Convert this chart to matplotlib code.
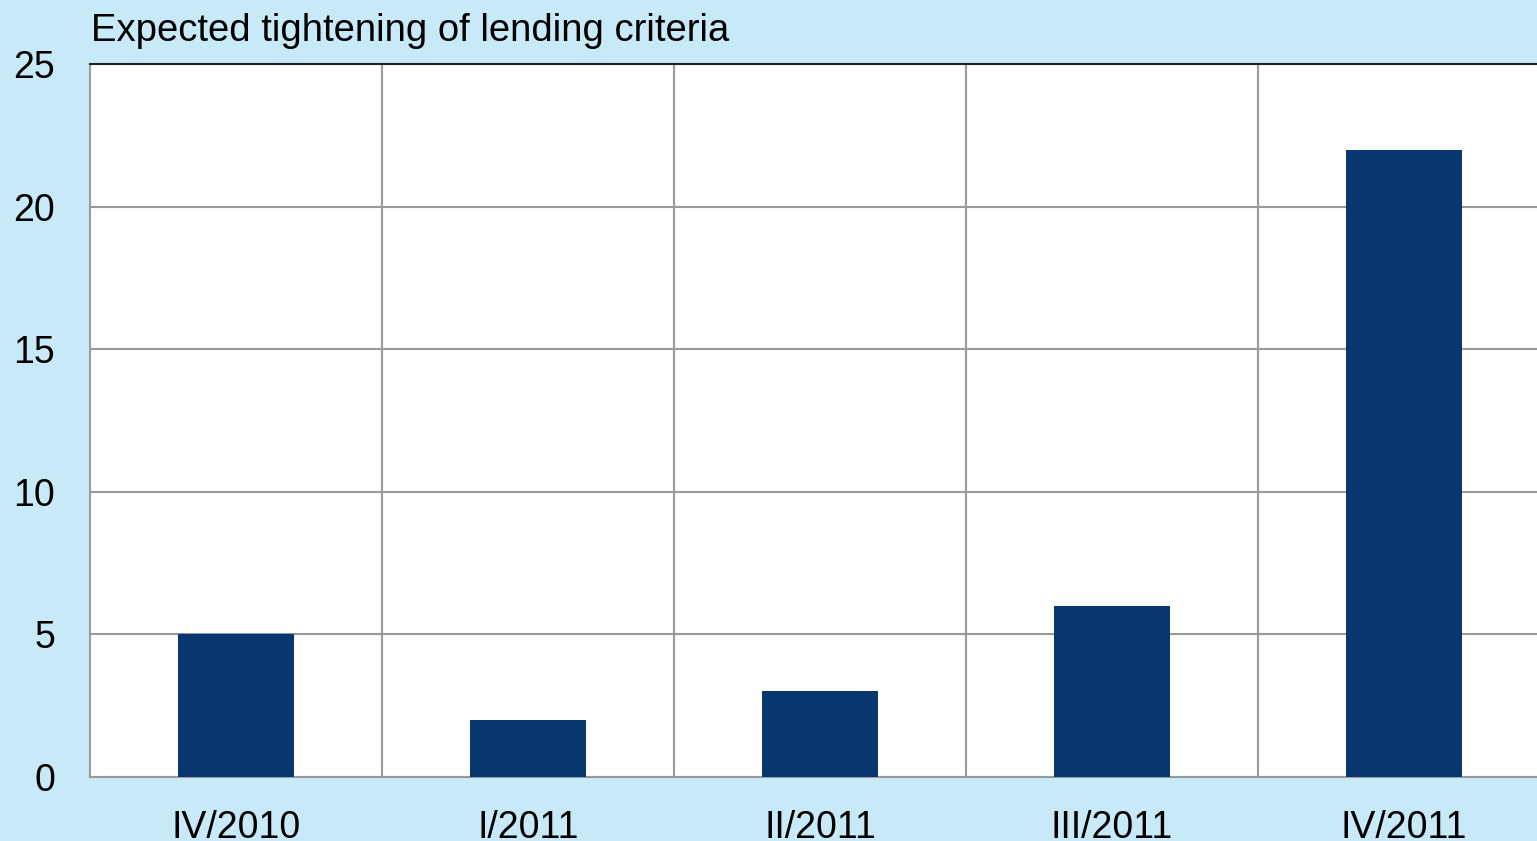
import matplotlib.pyplot as plt
import numpy as np

plt.rcParams['font.family'] = ['Liberation Sans', 'DejaVu Sans']

quarters = ['IV/2010', 'I/2011', 'II/2011', 'III/2011', 'IV/2011']
tightening = [5, 2, 3, 6, 22]
y_ticks = [0, 5, 10, 15, 20, 25]

bg = '#c8eaf8'
bar_color = '#08366f'
grid_color = '#999999'

fig = plt.figure(figsize=(15.37, 8.41), dpi=100, facecolor=bg)

# plot area runs past the right edge of the figure
ax = fig.add_axes([90 / 1537, 64 / 841, 1460 / 1537, 713 / 841])
ax.set_facecolor('white')

x = np.arange(len(quarters))
ax.bar(x, tightening, width=0.4, color=bar_color, zorder=3)

ax.set_xlim(-0.5, len(quarters) - 0.5)
ax.set_ylim(0, 25)
ax.set_yticks(y_ticks)
ax.set_xticks(x)
ax.set_xticklabels(quarters)
ax.set_xticks(x[:-1] + 0.5, minor=True)

ax.grid(axis='y', which='major', color=grid_color, lw=1.5, zorder=1)
ax.grid(axis='x', which='minor', color=grid_color, lw=1.5, zorder=1)
ax.tick_params(which='both', length=0)
ax.tick_params(axis='y', labelsize=27, pad=25)
ax.tick_params(axis='x', labelsize=27, pad=24)

for side in ['left', 'bottom']:
    ax.spines[side].set_color(grid_color)
    ax.spines[side].set_linewidth(1.5)
ax.spines['top'].set_color('#222222')
ax.spines['top'].set_linewidth(1.5)
ax.spines['right'].set_visible(False)

fig.text(91 / 1537, 1 - 41 / 841, 'Expected tightening of lending criteria',
         fontsize=27.5, ha='left', va='baseline')

fig.savefig('out.png', dpi=100, facecolor=bg)
